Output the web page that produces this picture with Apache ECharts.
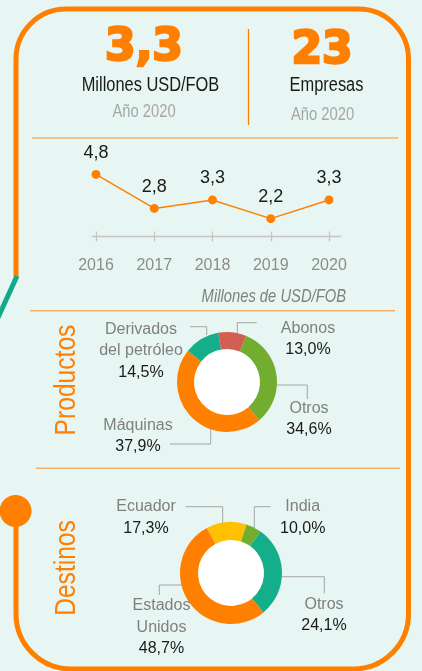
<!DOCTYPE html>
<html>
<head>
<meta charset="utf-8">
<script src="https://cdn.jsdelivr.net/npm/echarts@6/dist/echarts.min.js"></script>
<style>
html, body { margin: 0; padding: 0; background: #e7f6f2; }
#chart { width: 422px; height: 671px; }
</style>
</head>
<body>
<div id="chart"></div>
<script>
// datos
var years = ['2016', '2017', '2018', '2019', '2020'];
var exportsFob = [4.8, 2.8, 3.3, 2.2, 3.3];

var productNames = ['Abonos', 'Otros', 'Máquinas', 'Derivados\ndel petróleo'];
var productShares = ['13,0%', '34,6%', '37,9%', '14,5%'];
// tamaño de las porciones tal como se ven en el gráfico
var productSlices = [9.2, 32.5, 46.9, 11.4];

var destNames = ['Ecuador', 'India', 'Otros', 'Estados\nUnidos'];
var destShares = ['17,3%', '10,0%', '24,1%', '48,7%'];
var destSlices = [12.8, 4.9, 29.2, 53.1];

var ORANGE = '#ff8000';
var BG = '#e7f6f2';
var SANS = "'Liberation Sans', Arial, sans-serif";
var NARROW = 0.82; // sin Arial Narrow: se estrecha el texto

var chart = echarts.init(document.getElementById('chart'));

function fmt(v) { return v.toFixed(1).replace('.', ','); }

// posicion de etiquetas y guias (relativas al centro de la dona)
function pieLabels(cx, cy, offs, guides) {
    return function (p) {
        var i = p.dataIndex;
        var pts = guides[i].map(function (q) { return [cx + q[0], cy + q[1]]; });
        return {
            x: cx + offs[i][0], y: cy + offs[i][1],
            align: 'center', verticalAlign: 'middle',
            labelLinePoints: pts
        };
    };
}

function pieData(names, shares, slices, colors) {
    return slices.map(function (v, i) {
        return {
            value: v, name: names[i],
            itemStyle: { color: colors[i] },
            label: { formatter: '{n|' + names[i].split('\n').join('}\n{n|') + '}\n{p|' + shares[i] + '}' }
        };
    });
}

var pieLabel = {
    show: true, position: 'outside',
    rich: {
        n: { color: '#7f7f7f', fontSize: 16, lineHeight: 21.5, fontFamily: SANS, align: 'center' },
        p: { color: '#1a1a1a', fontSize: 16, lineHeight: 21.5, fontFamily: SANS, align: 'center' }
    }
};

function txt(x, y, s, font, color, extra) {
    var o = {
        type: 'text', x: x, y: y, z: 10, scaleX: NARROW,
        style: { text: s, font: font, fill: color, align: 'center', verticalAlign: 'middle' }
    };
    if (extra) { for (var k in extra) { o[k] = extra[k]; } }
    return o;
}

function hline(x1, x2, y, color, w) {
    return { type: 'line', z: 5, shape: { x1: x1, y1: y, x2: x2, y2: y }, style: { stroke: color, lineWidth: w } };
}

var option = {
    backgroundColor: BG,
    animation: false,
    graphic: [
        {
            type: 'rect', z: 5,
            shape: { x: 16, y: 9, width: 392.5, height: 660, r: [50, 50, 55, 55] },
            style: { stroke: ORANGE, lineWidth: 5, fill: 'none' }
        },
        // hueco del borde izquierdo
        { type: 'rect', z: 6, shape: { x: 10, y: 277, width: 12, height: 220 }, style: { fill: BG } },
        { type: 'line', z: 7, shape: { x1: 17, y1: 276, x2: -4, y2: 322 }, style: { stroke: '#14a98a', lineWidth: 5 } },
        { type: 'circle', z: 7, shape: { cx: 15.5, cy: 511, r: 16 }, style: { fill: ORANGE } },
        { type: 'line', z: 5, shape: { x1: 248.5, y1: 29, x2: 248.5, y2: 125 }, style: { stroke: ORANGE, lineWidth: 1.3 } },
        hline(32, 398, 138, '#f5b16a', 1.5),
        hline(30, 395, 310.7, '#f5b16a', 1.5),
        hline(36, 400, 468.3, '#f5b16a', 1.5),
        // linea del eje, algo mas larga que el rango de categorias
        hline(92, 341, 236.5, '#c4c4c4', 1.3),
        { type: 'circle', z: 0, shape: { cx: 227, cy: 382, r: 34 }, style: { fill: '#ffffff' } },
        { type: 'circle', z: 0, shape: { cx: 231, cy: 573, r: 34 }, style: { fill: '#ffffff' } },
        txt(144, 49, '3,3', "bold 44px 'DejaVu Sans'", ORANGE, { scaleX: 1, style: { text: '3,3', font: "bold 44px 'DejaVu Sans'", fill: ORANGE, stroke: ORANGE, lineWidth: 2.5, align: 'center', verticalAlign: 'middle' } }),
        txt(322, 51.5, '23', "bold 44px 'DejaVu Sans'", ORANGE, { scaleX: 1, style: { text: '23', font: "bold 44px 'DejaVu Sans'", fill: ORANGE, stroke: ORANGE, lineWidth: 2.5, align: 'center', verticalAlign: 'middle' } }),
        txt(150.5, 85, 'Millones USD/FOB', '20px ' + SANS, '#1a1a1a'),
        txt(326.5, 85.5, 'Empresas', '20px ' + SANS, '#1a1a1a'),
        txt(144, 112.5, 'Año 2020', '18px ' + SANS, '#a6a6a6'),
        txt(322.5, 115.5, 'Año 2020', '18px ' + SANS, '#a6a6a6'),
        txt(273.8, 297.3, 'Millones de USD/FOB', 'italic 18px ' + SANS, '#7f7f7f'),
        txt(66.5, 380, 'Productos', '30px ' + SANS, ORANGE, { rotation: Math.PI / 2 }),
        txt(66.5, 568, 'Destinos', '30px ' + SANS, ORANGE, { rotation: Math.PI / 2 })
    ],
    grid: { left: 96, right: 93, top: 171, bottom: 434.5, containLabel: false },
    xAxis: [
        {
            type: 'category', data: years, boundaryGap: false,
            axisLine: { show: false },
            axisTick: { show: true, inside: false, length: 5, lineStyle: { color: '#c4c4c4', width: 1.3 } },
            axisLabel: { color: '#8c8c8c', fontSize: 16, fontFamily: SANS, margin: 21 }
        },
        {
            type: 'category', data: years, boundaryGap: false, position: 'bottom',
            axisLine: { show: false },
            axisTick: { show: true, inside: true, length: 5, lineStyle: { color: '#c4c4c4', width: 1.3 } },
            axisLabel: { show: false }
        }
    ],
    yAxis: { type: 'value', min: 1.15, max: 5, show: false, splitLine: { show: false } },
    series: [
        {
            type: 'line', data: exportsFob, xAxisIndex: 0,
            symbol: 'circle', symbolSize: 9,
            lineStyle: { color: ORANGE, width: 1.5 },
            itemStyle: { color: ORANGE },
            label: {
                show: true, position: 'top', distance: 8,
                color: '#1a1a1a', fontSize: 18, fontFamily: SANS,
                formatter: function (p) { return fmt(p.value); }
            }
        },
        {
            type: 'pie', center: [227, 382], radius: [33, 50],
            startAngle: 100.4, clockwise: true, avoidLabelOverlap: false,
            data: pieData(productNames, productShares, productSlices, ['#d25f52', '#72ad2f', ORANGE, '#14ae8b']),
            label: pieLabel,
            labelLine: { show: true, lineStyle: { color: '#a6a6a6', width: 1 } },
            labelLayout: pieLabels(227, 382,
                [[81, -43], [82, 37], [-89, 54], [-86, -31]],
                [
                    [[10.3, -48.7], [10.3, -59.3], [29.7, -59.3]],
                    [[49.7, 3], [80.3, 3], [80.3, 17]],
                    [[-16.3, 46.3], [-16.3, 62], [-57, 62]],
                    [[-20.3, -47], [-20.3, -55.3], [-37, -55.3]]
                ])
        },
        {
            type: 'pie', center: [231, 573], radius: [33, 51],
            startAngle: 118.3, clockwise: true, avoidLabelOverlap: false,
            data: pieData(destNames, destShares, destSlices, ['#ffc000', '#72ad2f', '#14ae8b', ORANGE]),
            label: pieLabel,
            labelLine: { show: true, lineStyle: { color: '#a6a6a6', width: 1 } },
            labelLayout: pieLabels(231, 573,
                [[-85, -55.5], [71.7, -55.2], [93, 42], [-69.5, 54.5]],
                [
                    [[-8.3, -50.3], [-8.3, -66.3], [-45.3, -66.3]],
                    [[23.3, -44.7], [23.3, -66.3], [39.7, -66.3]],
                    [[50.7, 3.7], [93.3, 3.7], [93.3, 20.3]],
                    [[-49.3, 12], [-71.7, 12], [-71.7, 22]]
                ])
        }
    ]
};

chart.setOption(option);
</script>
</body>
</html>
